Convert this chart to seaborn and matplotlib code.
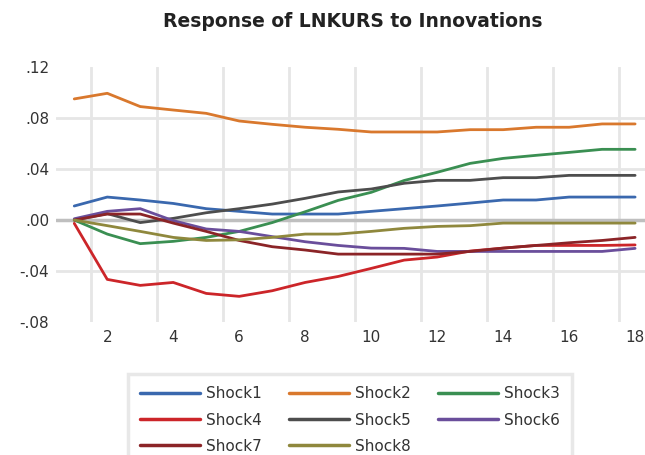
import numpy as np
import pandas as pd
import matplotlib
matplotlib.use("Agg")
import matplotlib.pyplot as plt
import seaborn as sns
from matplotlib.lines import Line2D

periods = list(range(1, 19))

shock1 = [0.011, 0.018, 0.0157, 0.013, 0.0089, 0.0068, 0.0047, 0.0047, 0.0047,
          0.0068, 0.0089, 0.011, 0.0133, 0.0157, 0.0157, 0.018, 0.018, 0.018]
shock2 = [0.0949, 0.0993, 0.0889, 0.0862, 0.0836, 0.0776, 0.075, 0.0727, 0.0711,
          0.069, 0.069, 0.069, 0.0708, 0.0708, 0.0727, 0.0727, 0.0753, 0.0753]
shock3 = [0.0, -0.011, -0.0185, -0.0167, -0.0136, -0.0089, -0.002, 0.0065, 0.0154,
          0.0217, 0.031, 0.0374, 0.0444, 0.0483, 0.0507, 0.053, 0.0554, 0.0554]
shock4 = [-0.0026, -0.0465, -0.0512, -0.0489, -0.0575, -0.0598, -0.0554, -0.0489, -0.0442,
          -0.0379, -0.0314, -0.029, -0.0243, -0.022, -0.0199, -0.0199, -0.0199, -0.0195]
shock5 = [0.0, 0.005, -0.002, 0.0013, 0.0057, 0.0089, 0.0125, 0.017, 0.022,
          0.0243, 0.0288, 0.0311, 0.0311, 0.0332, 0.0332, 0.035, 0.035, 0.035]
shock6 = [0.001, 0.0068, 0.0089, -0.0005, -0.007, -0.0089, -0.013, -0.017, -0.0199,
          -0.022, -0.0222, -0.0246, -0.0246, -0.0246, -0.0246, -0.0246, -0.0246, -0.0222]
shock7 = [0.0, 0.0047, 0.0047, -0.0024, -0.0089, -0.016, -0.0209, -0.0235, -0.0267,
          -0.0267, -0.0267, -0.0267, -0.0246, -0.022, -0.0199, -0.0178, -0.016, -0.0136]
shock8 = [0.0, -0.0044, -0.0089, -0.0136, -0.016, -0.0155, -0.0136, -0.011, -0.011,
          -0.0089, -0.0065, -0.005, -0.0044, -0.0024, -0.0024, -0.0024, -0.0024, -0.0024]

names = ["Shock1", "Shock2", "Shock3", "Shock4", "Shock5", "Shock6", "Shock7", "Shock8"]
series = [shock1, shock2, shock3, shock4, shock5, shock6, shock7, shock8]
colors = ["#3A68AE", "#D9782D", "#3A8F52", "#CC2529", "#4D4D4D", "#6A4E9B", "#8B2427", "#8F883D"]

yticks = [-0.08, -0.04, 0.0, 0.04, 0.08, 0.12]
ytick_labels = ["-.08", "-.04", ".00", ".04", ".08", ".12"]
xticks = list(range(2, 19, 2))

df = pd.DataFrame({
    "period": periods * len(names),
    "value": [v for s in series for v in s],
    "shock": [n for n in names for _ in periods],
})

sns.set_theme(style="white", rc={"axes.grid": False, "axes.edgecolor": "white"})
plt.rcParams["font.family"] = ["DejaVu Sans"]

fig = plt.figure(figsize=(6.45, 4.55), dpi=100)
ax = fig.add_axes([0.087, 0.292, 0.913, 0.561])
ax.set_frame_on(False)

# grid: horizontal lines at inner ticks, vertical lines between category pairs
for y in [-0.04, 0.04, 0.08]:
    ax.axhline(y, color="#E6E6E6", lw=2, zorder=0)
for x in np.arange(1.5, 18, 2):
    ax.axvline(x, color="#E6E6E6", lw=2, zorder=0)
ax.axhline(0, color="#BFBFBF", lw=2.5, zorder=0.5)

sns.lineplot(data=df, x="period", y="value", hue="shock", hue_order=names,
             palette=colors, linewidth=2, ax=ax, legend=False, zorder=2)

ax.set_xlim(0.45, 18.3)
ax.set_ylim(-0.08, 0.12)
ax.set_xticks(xticks)
ax.set_xticklabels([str(t) for t in xticks], fontsize=11, color="#333333")
ax.set_yticks(yticks)
ax.set_yticklabels(ytick_labels, fontsize=11, color="#333333")
ax.tick_params(axis="x", length=0, pad=6)
ax.tick_params(axis="y", length=0, pad=5)
ax.set_xlabel("")
ax.set_ylabel("")
ax.xaxis.grid(False)
ax.yaxis.grid(False)

fig.text(0.547, 0.952, "Response of LNKURS to Innovations", ha="center", va="center",
         fontsize=13.5, fontweight="bold", color="#222222")

# legend filled row-wise across three columns
order = [0, 3, 6, 1, 4, 7, 2, 5]
handles = [Line2D([0], [0], color=colors[i], lw=2.5) for i in order]
labels = [names[i] for i in order]
leg = fig.legend(handles, labels, ncol=3, loc="upper left",
                 bbox_to_anchor=(128 / 645, 1 - 374 / 455), bbox_transform=fig.transFigure,
                 borderaxespad=0, frameon=True, fontsize=11, handlelength=3.9,
                 handletextpad=0.4, columnspacing=1.8, labelspacing=0.74,
                 borderpad=0.8, fancybox=False)
leg.get_frame().set_edgecolor("#E3E3E3")
leg.get_frame().set_linewidth(2.5)
for t in leg.get_texts():
    t.set_color("#333333")

fig.savefig("out.png", dpi=100)
